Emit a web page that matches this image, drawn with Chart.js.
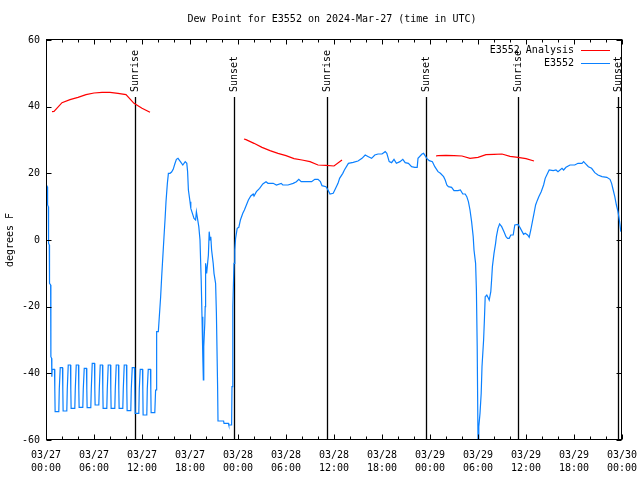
<!DOCTYPE html>
<html>
<head>
<meta charset="utf-8">
<script src="https://cdn.jsdelivr.net/npm/chart.js@4.4.1/dist/chart.umd.min.js"></script>
<style>
  html, body { margin: 0; padding: 0; background: #fff; }
</style>
</head>
<body>
<canvas id="c" width="640" height="480"></canvas>
<script>
// hours since 2024-03-27 00:00 UTC
const titleText = "Dew Point for E3552 on 2024-Mar-27 (time in UTC)";
const xTickLabels = [
  ["03/27", "00:00"], ["03/27", "06:00"], ["03/27", "12:00"], ["03/27", "18:00"],
  ["03/28", "00:00"], ["03/28", "06:00"], ["03/28", "12:00"], ["03/28", "18:00"],
  ["03/29", "00:00"], ["03/29", "06:00"], ["03/29", "12:00"], ["03/29", "18:00"],
  ["03/30", "00:00"]
];
const yTicks = [-60, -40, -20, 0, 20, 40, 60];

const sunHours = [11.12, 23.55, 35.16, 47.5, 59.05, 71.54];
const sunLabels = ["Sunrise", "Sunset", "Sunrise", "Sunset", "Sunrise", "Sunset"];

// E3552 Analysis (null = gap)
const anaHours = [
  0.75, 1, 2, 3, 4, 5, 6, 7, 8, 9, 10, 11, 12, 13,
  18,
  24.75, 25, 26, 27, 28, 29, 30, 31, 32, 33, 34, 35, 36, 37,
  42,
  48.75, 49, 50, 51, 52, 53, 54, 55, 56, 57, 58, 59, 60, 61
];
const anaF = [
  38.5, 38.6, 41.2, 42.1, 42.8, 43.6, 44.1, 44.3, 44.3, 44.0, 43.6, 41.0, 39.5, 38.3,
  null,
  30.3, 30.1, 29, 27.8, 26.8, 26, 25.3, 24.4, 24, 23.5, 22.5, 22.4, 22.2, 24,
  null,
  25.2, 25.3, 25.4, 25.3, 25.2, 24.5, 24.8, 25.6, 25.7, 25.8, 25.1, 24.8, 24.4, 23.7
];

// E3552 observations
const dewHours = [
  0.05, 0.16, 0.2, 0.29, 0.32, 0.41, 0.44, 0.58, 0.61, 0.7, 0.73,
  0.78, 1.06, 1.1, 1.14, 1.6, 1.66,
  1.78, 2.06, 2.1, 2.14, 2.6, 2.66,
  2.78, 3.06, 3.1, 3.14, 3.6, 3.66,
  3.78, 4.06, 4.1, 4.14, 4.6, 4.66,
  4.78, 5.06, 5.1, 5.14, 5.6, 5.66,
  5.78, 6.06, 6.1, 6.14, 6.6, 6.66,
  6.78, 7.06, 7.1, 7.14, 7.6, 7.66,
  7.78, 8.06, 8.1, 8.14, 8.6, 8.66,
  8.78, 9.06, 9.1, 9.14, 9.6, 9.66,
  9.78, 10.06, 10.1, 10.14, 10.6, 10.66,
  10.78, 11.06, 11.1, 11.14, 11.6, 11.66,
  11.78, 12.06, 12.1, 12.14, 12.6, 12.66,
  12.78, 13.06, 13.1, 13.14, 13.6, 13.7,
  13.75, 13.83, 14.04, 14.33, 14.46, 14.58, 14.75, 14.9, 15.0, 15.17,
  15.3, 15.5, 15.7, 15.9, 16.1, 16.3, 16.5, 16.8, 17.1, 17.4,
  17.6, 17.7, 17.8, 18.0, 18.1, 18.3, 18.5, 18.7, 18.8, 18.9,
  19.1, 19.25, 19.4, 19.5, 19.6, 19.67, 19.72, 19.85, 19.9, 19.95,
  20.08, 20.2, 20.3, 20.4, 20.5, 20.6, 20.7, 20.9, 21.0, 21.2,
  21.3, 21.45, 21.5, 22.2, 22.25, 22.8, 22.85, 23.2, 23.25, 23.35,
  23.5, 23.6, 23.7, 23.9, 24.1, 24.3, 24.6, 24.8, 25.0, 25.3,
  25.6, 25.9, 26.0, 26.3, 26.7, 27.1, 27.5, 27.75, 28.4, 28.8,
  29.4, 29.6, 30.25, 30.9, 31.3, 31.6, 31.9, 32.5, 33.2, 33.6,
  34.0, 34.3, 34.5, 35.0, 35.25, 35.5, 35.9, 36.1, 36.5, 36.7,
  37.1, 37.3, 37.8, 38.4, 39.0, 39.5, 39.9, 40.3, 40.7, 41.1,
  41.5, 42.0, 42.4, 42.6, 42.9, 43.2, 43.5, 43.8, 44.25, 44.6,
  44.9, 45.3, 45.7, 46.1, 46.4, 46.5, 47.0, 47.2, 47.6, 47.9,
  48.3, 48.6, 49.0, 49.3, 49.7, 49.9, 50.1, 50.3, 50.7, 51.0,
  51.5, 51.8, 52.1, 52.4, 52.6, 52.8, 53.0, 53.2, 53.4, 53.5,
  53.7, 53.8, 53.9, 54.0, 54.1, 54.25, 54.4, 54.5, 54.7, 54.8,
  54.9, 55.1, 55.3, 55.4, 55.6, 55.7, 55.8, 56.0, 56.2, 56.3,
  56.5, 56.7, 56.96, 57.25, 57.5, 57.7, 57.9, 58.1, 58.4, 58.6,
  59.0, 59.25, 59.7, 59.9, 60.2, 60.4, 60.6, 60.8, 61.0, 61.2,
  61.4, 61.6, 61.9, 62.2, 62.4, 62.7, 62.9, 63.4, 63.75, 64.0,
  64.5, 64.7, 65.0, 65.5, 66.1, 66.5, 67.0, 67.2, 67.4, 67.8,
  68.2, 68.6, 69.0, 69.5, 70.1, 70.5, 70.7, 70.9, 71.1, 71.3,
  71.5, 71.7, 71.85
];
const dewF = [
  16.5, 16, 10.5, 10, -1, -1.5, -13, -13.5, -35, -35.5, -41,
  -38.8, -38.8, -44.7, -51.5, -51.5, -44.7,
  -38.3, -38.3, -44.7, -51.3, -51.3, -44.7,
  -37.5, -37.5, -44.7, -50.5, -50.5, -44.7,
  -37.5, -37.5, -44.7, -50.2, -50.2, -44.7,
  -38.5, -38.5, -44.7, -50.3, -50.3, -44.7,
  -37, -37, -44.7, -49.5, -49.5, -44.7,
  -37.5, -37.5, -44.7, -50.5, -50.5, -44.7,
  -37.5, -37.5, -44.7, -50.5, -50.5, -44.7,
  -37.5, -37.5, -44.7, -50.5, -50.5, -44.7,
  -37.5, -37.5, -44.7, -51.2, -51.2, -44.7,
  -38.3, -38.3, -44.7, -52, -52, -44.7,
  -38.8, -38.8, -44.7, -52.5, -52.5, -44.7,
  -38.8, -38.8, -44.7, -51.8, -51.8, -45,
  -45, -27.5, -27.5, -17, -11, -6, 1, 7, 11.5, 17,
  20, 20, 20.4, 21.2, 22.8, 24.2, 24.5, 23.5, 22.5, 23.5,
  23, 20.5, 15, 11.5, 9.5, 8, 6.5, 6, 8.5, 7,
  4, 0, -12, -23, -35, -42, -32, -25, -20, -7,
  -10, -7, -4.5, 2.5, 0, 1, -3, -7, -10, -13,
  -22, -44, -54.3, -54.3, -55, -55, -55.5, -55.5, -44, -20,
  -7, -3, 0.5, 3.5, 3.8, 6, 8, 9, 10.2, 12,
  13.2, 13.8, 13.2, 14.5, 15.5, 16.8, 17.5, 17, 17, 16.5,
  17, 16.5, 16.5, 17, 17.5, 18.2, 17.5, 17.5, 17.5, 18.2,
  18.2, 17.5, 16.3, 16, 15, 13.8, 14, 15, 17, 18.5,
  20, 21, 23, 23.3, 23.7, 24.5, 25.5, 25, 24.5, 25.5,
  25.8, 25.8, 26.5, 26, 23.5, 23.2, 24.2, 23, 23.5, 24.2,
  23.2, 23, 22, 21.8, 21.8, 24.5, 25.8, 26, 24.5, 23.8,
  23.5, 22, 20.5, 20, 19, 18, 16.5, 16, 15.8, 14.8,
  14.8, 15, 13.8, 13.8, 13, 11.5, 9, 5.5, 1, -3,
  -7, -15, -32, -60, -56, -52, -46, -38, -30, -24,
  -17, -16.5, -17.5, -18, -15.5, -12, -8, -4, -1, 1,
  3.5, 4.8, 4, 2.5, 1, 0.5, 0.5, 1.5, 1.5, 4.5,
  4.7, 3.7, 1.7, 2, 1.5, 0.8, 3, 5.5, 8, 10.5,
  11.8, 13, 14.5, 16.5, 18.5, 20, 21, 20.8, 21, 20.5,
  21.5, 21, 21.8, 22.5, 22.5, 23, 23, 23.5, 23, 22,
  21.5, 20.2, 19.5, 19, 18.8, 18.2, 17, 15, 13, 10.5,
  8.5, 5.5, 2.5
];

const FONT = "10px 'DejaVu Sans Mono'";
const RED = "#ff0000";
const BLUE = "#0a80ff";

const decorations = {
  id: "decorations",
  beforeDatasetsDraw(chart) {
    const { ctx, chartArea: a, scales: { x } } = chart;
    ctx.save();
    ctx.strokeStyle = "#000";
    ctx.lineWidth = 1.3;
    ctx.fillStyle = "#000";
    ctx.font = FONT;
    ctx.textBaseline = "middle";
    ctx.textAlign = "left";
    sunHours.forEach((h, i) => {
      const px = Math.round(x.getPixelForValue(h)) + 0.5;
      ctx.beginPath();
      ctx.moveTo(px, a.top + 57);
      ctx.lineTo(px, a.bottom);
      ctx.stroke();
      ctx.save();
      ctx.translate(px, a.top + 52);
      ctx.rotate(-Math.PI / 2);
      ctx.fillText(sunLabels[i], 0, 0);
      ctx.restore();
    });
    ctx.restore();
  },
  afterDraw(chart) {
    const { ctx, chartArea: a, scales: { x, y } } = chart;
    ctx.save();
    ctx.strokeStyle = "#000";
    ctx.lineWidth = 1;
    const L = Math.round(a.left) + 0.5, R = Math.round(a.right) - 0.5;
    const T = Math.round(a.top) - 0.5, B = Math.round(a.bottom) - 0.5;
    ctx.strokeRect(L, T, R - L, B - T);
    ctx.beginPath();
    for (let h = 0; h <= 72; h += 2) {
      const px = Math.round(x.getPixelForValue(h)) + 0.5;
      const len = h % 6 === 0 ? 5 : 3;
      ctx.moveTo(px, B); ctx.lineTo(px, B - len);
      ctx.moveTo(px, T); ctx.lineTo(px, T + len);
    }
    yTicks.forEach(v => {
      const py = Math.round(y.getPixelForValue(v)) + 0.5;
      ctx.moveTo(L, py); ctx.lineTo(L + 5, py);
      ctx.moveTo(R, py); ctx.lineTo(R - 5, py);
    });
    ctx.stroke();

    ctx.fillStyle = "#000";
    ctx.font = FONT;
    ctx.textBaseline = "middle";
    ctx.textAlign = "center";
    ctx.fillText(titleText, (a.left + a.right) / 2 - 2, 19);

    // legend
    const items = [["E3552 Analysis", RED], ["E3552", BLUE]];
    ctx.textAlign = "right";
    items.forEach(([label, color], i) => {
      const ly = a.top + 10 + i * 13;
      ctx.fillStyle = "#000";
      ctx.fillText(label, a.right - 48, ly);
      ctx.strokeStyle = color;
      ctx.lineWidth = 1;
      ctx.beginPath();
      ctx.moveTo(a.right - 41, Math.round(ly) + 0.5);
      ctx.lineTo(a.right - 12, Math.round(ly) + 0.5);
      ctx.stroke();
    });
    ctx.restore();
  }
};

new Chart(document.getElementById("c"), {
  type: "line",
  data: {
    datasets: [
      {
        label: "E3552 Analysis",
        data: anaHours.map((h, i) => ({ x: h, y: anaF[i] })),
        borderColor: RED,
        borderWidth: 1.2,
        pointRadius: 0,
        tension: 0,
        spanGaps: false
      },
      {
        label: "E3552",
        data: dewHours.map((h, i) => ({ x: h, y: dewF[i] })),
        borderColor: BLUE,
        borderWidth: 1.2,
        pointRadius: 0,
        tension: 0
      }
    ]
  },
  options: {
    responsive: false,
    animation: false,
    layout: { padding: { top: 40, right: 18, left: 0, bottom: 0 } },
    plugins: { legend: { display: false }, tooltip: { enabled: false }, title: { display: false } },
    scales: {
      x: {
        type: "linear",
        min: 0,
        max: 72,
        grid: { display: false, drawTicks: false, tickLength: 0 },
        border: { display: false },
        ticks: {
          stepSize: 6,
          autoSkip: false,
          maxRotation: 0,
          padding: 9,
          color: "#000",
          font: { family: "'DejaVu Sans Mono'", size: 10, lineHeight: 1.3 },
          callback: (v) => xTickLabels[v / 6]
        },
        afterFit: (s) => { s.height = 40; s.paddingLeft = 0; s.paddingRight = 0; }
      },
      y: {
        min: -60,
        max: 60,
        grid: { display: false, drawTicks: false, tickLength: 0 },
        border: { display: false },
        ticks: {
          stepSize: 20,
          padding: 6,
          color: "#000",
          font: { family: "'DejaVu Sans Mono'", size: 10 }
        },
        title: {
          display: true,
          text: "degrees F",
          color: "#000",
          font: { family: "'DejaVu Sans Mono'", size: 10 }
        },
        afterFit: (s) => { s.width = 46; s.paddingTop = 0; s.paddingBottom = 0; }
      }
    }
  },
  plugins: [decorations]
});
</script>
</body>
</html>
